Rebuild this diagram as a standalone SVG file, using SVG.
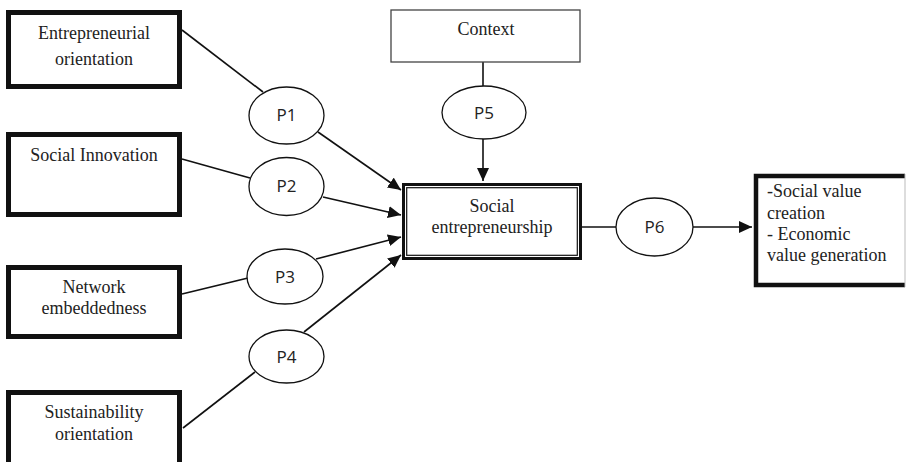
<svg xmlns="http://www.w3.org/2000/svg" width="907" height="462" viewBox="0 0 907 462">
<style>
.box{fill:#fff;stroke:#111;stroke-width:5}
.thin{fill:#fff;stroke:#444;stroke-width:1.3}
.t{font-family:"Liberation Serif","Times New Roman",serif;font-size:18px;fill:#222;text-anchor:middle}
.tl{font-family:"Liberation Serif","Times New Roman",serif;font-size:18px;fill:#222}
.ell{fill:#fff;stroke:#111;stroke-width:1.3}
.p{font-family:"Open Sans","Liberation Sans",sans-serif;font-size:17px;fill:#222;text-anchor:middle}
.ln{stroke:#111;stroke-width:1.6;fill:none}
.ar{stroke:#111;stroke-width:1.6;fill:none;marker-end:url(#ah)}
</style>
<defs>
<marker id="ah" markerUnits="userSpaceOnUse" markerWidth="14" markerHeight="12" refX="13" refY="6" orient="auto">
<path d="M0,0 L13,6 L0,12 Z" fill="#111"/>
</marker>
</defs>
<rect width="907" height="462" fill="#fff"/>
<g id="connectors">
<line class="ln" x1="182" y1="30" x2="263" y2="92"/>
<line class="ar" x1="318" y1="132" x2="401" y2="190"/>
<line class="ln" x1="182" y1="159" x2="250" y2="178"/>
<line class="ar" x1="323" y1="197" x2="401" y2="215"/>
<line class="ln" x1="182" y1="294" x2="248" y2="278"/>
<line class="ar" x1="316" y1="259" x2="401" y2="237"/>
<line class="ln" x1="183" y1="428" x2="255" y2="372"/>
<line class="ar" x1="304" y1="332" x2="401" y2="255"/>
<line class="ln" x1="483" y1="62" x2="483" y2="86"/>
<line class="ar" x1="483" y1="139" x2="483" y2="181"/>
<line class="ln" x1="582" y1="227" x2="616" y2="227"/>
<line class="ar" x1="693" y1="227" x2="752" y2="227"/>
</g>
<g id="n-entre">
<rect class="box" x="8.5" y="12.5" width="171" height="74"/>
<text class="t" x="94" y="39">Entrepreneurial</text>
<text class="t" x="94" y="65">orientation</text>
</g>
<g id="n-socinn">
<rect class="box" x="8.5" y="134.5" width="171" height="80"/>
<text class="t" x="94" y="161">Social Innovation</text>
</g>
<g id="n-network">
<rect class="box" x="8.5" y="267.5" width="171" height="69"/>
<text class="t" x="94" y="293">Network</text>
<text class="t" x="94" y="314">embeddedness</text>
</g>
<g id="n-sust">
<rect class="box" x="8.5" y="392.5" width="171" height="90"/>
<text class="t" x="94" y="418">Sustainability</text>
<text class="t" x="94" y="440">orientation</text>
</g>
<g id="n-context">
<rect class="thin" x="391" y="10" width="189" height="52"/>
<text class="t" x="486" y="35">Context</text>
</g>
<g id="n-se">
<rect x="403.5" y="184.5" width="177" height="74" fill="#fff" stroke="#111" stroke-width="3"/>
<rect x="406.7" y="187.7" width="170.6" height="67.6" fill="none" stroke="#111" stroke-width="1.2"/>
<text class="t" x="492" y="212">Social</text>
<text class="t" x="492" y="233">entrepreneurship</text>
</g>
<g id="n-out">
<rect x="756" y="176" width="149" height="109" fill="#fff"/>
<path d="M905,176 H756 V285 H905" fill="none" stroke="#111" stroke-width="4.5"/>
<line x1="905" y1="174" x2="905" y2="287" stroke="#bbb" stroke-width="1"/>
<text class="tl" x="767" y="197">-Social value</text>
<text class="tl" x="767" y="219">creation</text>
<text class="tl" x="767" y="240">- Economic</text>
<text class="tl" x="767" y="261">value generation</text>
</g>
<g id="n-p1">
<ellipse class="ell" cx="286.5" cy="115.5" rx="37.5" ry="28.5"/>
<text class="p" x="286.5" y="121">P1</text>
</g>
<g id="n-p2">
<ellipse class="ell" cx="286.5" cy="186.5" rx="37.5" ry="29"/>
<text class="p" x="286.5" y="192">P2</text>
</g>
<g id="n-p3">
<ellipse class="ell" cx="285" cy="276.5" rx="38" ry="27.5"/>
<text class="p" x="285" y="282.5">P3</text>
</g>
<g id="n-p4">
<ellipse class="ell" cx="286.5" cy="356.5" rx="37.5" ry="26.5"/>
<text class="p" x="286.5" y="362.5">P4</text>
</g>
<g id="n-p5">
<ellipse class="ell" cx="484" cy="112.5" rx="42" ry="26.5"/>
<text class="p" x="484" y="118.5">P5</text>
</g>
<g id="n-p6">
<ellipse class="ell" cx="654.5" cy="227" rx="38.5" ry="29"/>
<text class="p" x="654.5" y="232.5">P6</text>
</g>
</svg>
